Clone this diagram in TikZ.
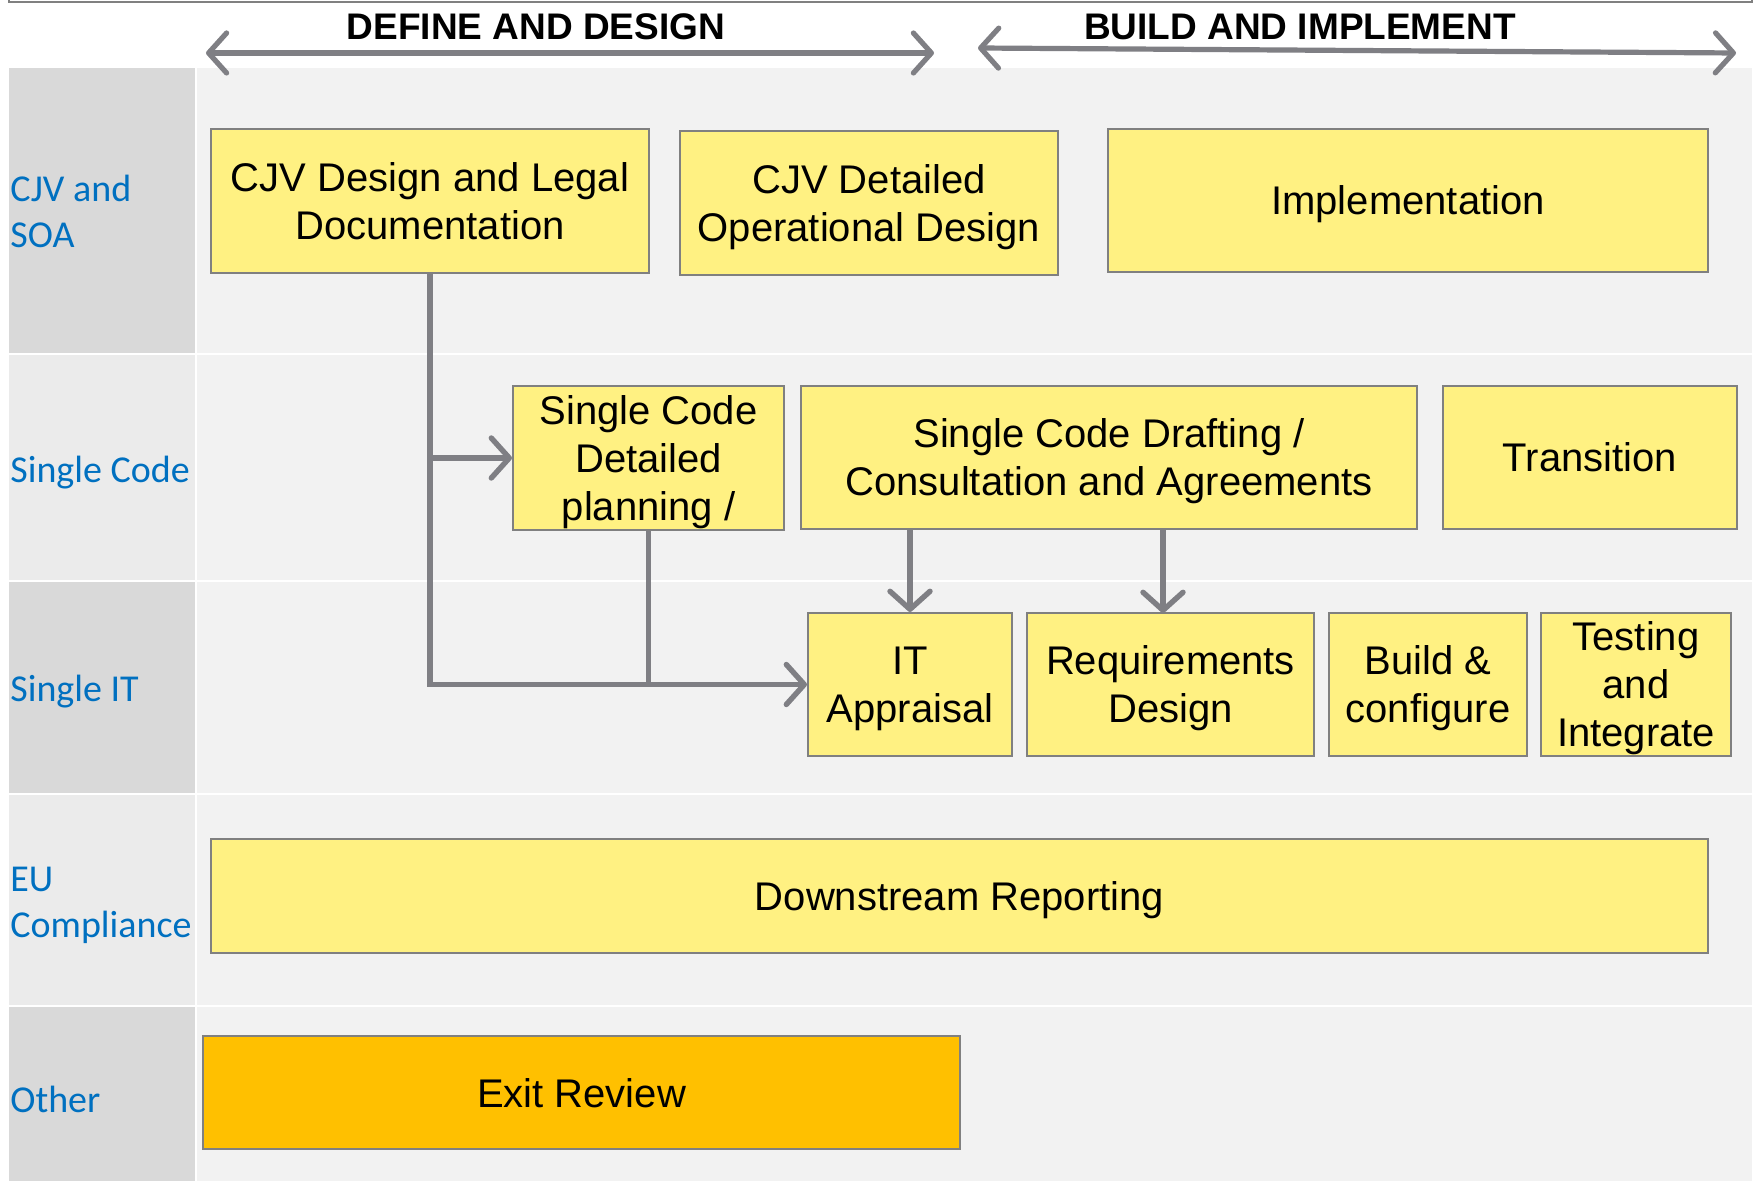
\documentclass[tikz,border=0pt]{standalone}
\usepackage{fontspec}
\setmainfont{Liberation Sans}
\newfontfamily\boxf{Liberation Sans}
\newfontfamily\lblf{Carlito}
\usetikzlibrary{arrows.meta}
\definecolor{boxfill}{HTML}{FFF182}
\definecolor{boxline}{HTML}{808080}
\definecolor{arrgray}{HTML}{7F7F84}
\definecolor{exitfill}{HTML}{FFC000}
\definecolor{lbldark}{HTML}{D9D9D9}
\definecolor{lbllight}{HTML}{EBEBEB}
\definecolor{cellbg}{HTML}{F2F2F2}
\definecolor{lblblue}{HTML}{0070C0}
\tikzset{
  box/.style={draw=boxline, line width=1pt, fill=boxfill, align=center, inner sep=0pt,
    text depth=-1.6pt, font=\boxf\fontsize{20}{24}\selectfont},
  exitbox/.style={box, fill=exitfill},
  rowlbl/.style={anchor=west, align=left, inner sep=0pt, text=lblblue,
    font=\lblf\fontsize{19}{23}\selectfont},
  hdr/.style={anchor=base, inner sep=0pt, font=\boxf\bfseries\fontsize{18.5}{22}\selectfont},
  wire/.style={draw=arrgray, line width=2.7pt},
  conn/.style={wire, -{Straight Barb[length=9pt, width=20pt, line cap=round, line join=round]}},
  harrow/.style={wire, line width=2.6pt, {Straight Barb[length=9pt, width=20pt, line cap=round, line join=round]}-{Straight Barb[length=9pt, width=20pt, line cap=round, line join=round]}},
  frame/.style={draw=boxline, line width=1pt}
}
\begin{document}
\begin{tikzpicture}[x=0.5pt, y=-0.5pt]
\useasboundingbox (0,0) rectangle (1754,1181);
\fill[white] (0,0) rectangle (1754,1181);
% top frame edge
\draw[frame] (9,-2) -- (9,2.5) -- (1752,2.5) -- (1752,-2);
% rows: label cells
\fill[lbldark]  (9,68)   rectangle (195,353);
\fill[lbllight] (9,355)  rectangle (195,580);
\fill[lbldark]  (9,582)  rectangle (195,793);
\fill[lbllight] (9,795)  rectangle (195,1005);
\fill[lbldark]  (9,1007) rectangle (195,1181);
% rows: content cells
\fill[cellbg] (197,68)   rectangle (1752,353);
\fill[cellbg] (197,355)  rectangle (1752,580);
\fill[cellbg] (197,582)  rectangle (1752,793);
\fill[cellbg] (197,795)  rectangle (1752,1005);
\fill[cellbg] (197,1007) rectangle (1752,1181);
% row labels
\node[rowlbl] (l1) at (10,211) {CJV and\\SOA};
\node[rowlbl] (l2) at (10,472.5) {Single Code};
\node[rowlbl] (l3) at (10,691.5) {Single IT};
\node[rowlbl] (l4) at (10,905) {EU\\Compliance};
\node[rowlbl] (l5) at (10,1099.5) {Other};
% headers
\node[hdr] (h1) at (536,40) {DEFINE AND DESIGN};
\node[hdr] (h2) at (1300,40) {BUILD AND IMPLEMENT};
\coordinate (h1l) at (206,53);
\coordinate (h1r) at (934,53);
\coordinate (h2l) at (978,48);
\coordinate (h2r) at (1736,53);
\draw[harrow] (h1l) -- (h1r);
\draw[harrow] (h2l) -- (h2r);
% boxes
\node[box, minimum width=219pt, minimum height=72pt] (cjvd) at (430,201) {CJV Design and Legal\\Documentation};
\node[box, minimum width=189pt, minimum height=72pt] (cjvo) at (869,203) {CJV Detailed\\Operational Design};
\node[box, minimum width=300pt, minimum height=71.5pt] (impl) at (1408,200.5) {Implementation};
\node[box, minimum width=135.5pt, minimum height=72pt] (scdp) at (648.5,458) {Single Code\\Detailed\\planning /};
\node[box, minimum width=308pt, minimum height=71.5pt] (scdr) at (1109,457.5) {Single Code Drafting /\\Consultation and Agreements};
\node[box, minimum width=147pt, minimum height=71.5pt] (trans) at (1590,457.5) {Transition};
\node[box, minimum width=102pt, minimum height=71.5pt] (ita) at (910,684.5) {IT\\Appraisal};
\node[box, minimum width=143.5pt, minimum height=71.5pt] (req) at (1170.5,684.5) {Requirements\\Design};
\node[box, minimum width=99pt, minimum height=71.5pt] (build) at (1428,684.5) {Build \&\\configure};
\node[box, minimum width=95pt, minimum height=71.5pt] (test) at (1636,684.5) {Testing\\and\\Integrate};
\node[box, minimum width=748.5pt, minimum height=57pt] (down) at (959.5,896) {Downstream Reporting};
\node[exitbox, minimum width=378.5pt, minimum height=56.5pt] (exit) at (581.5,1092.5) {Exit Review};
% connectors
\coordinate (rqtop) at (1163,613);
\coordinate (join) at (648.5,684.5);
\draw[wire] (scdp.south) -- (join);
\draw[conn] (cjvd.south) |- (ita.west);
\draw[conn] (cjvd.south |- scdp.west) -- (scdp.west);
\draw[conn] (scdr.south -| ita.north) -- (ita.north);
\draw[conn] (scdr.south -| rqtop) -- (rqtop);
\end{tikzpicture}
\end{document}
